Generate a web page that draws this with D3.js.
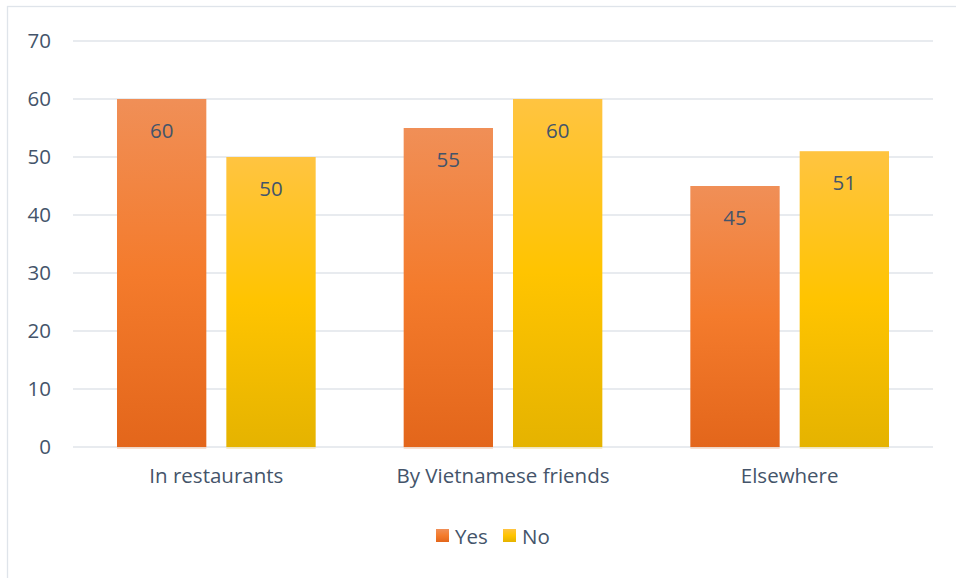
<!DOCTYPE html>
<html>
<head>
<meta charset="utf-8">
<script src="https://cdn.jsdelivr.net/npm/d3@7"></script>
<style>
  html, body { margin: 0; padding: 0; background: #fff; }
  svg { display: block; }
  text { font-family: "Open Sans", "Noto Sans", sans-serif; fill: #44546A; }
</style>
</head>
<body>
<svg id="chart" width="956" height="578"></svg>
<script>
// Chart data
const categories = ["In restaurants", "By Vietnamese friends", "Elsewhere"];
const seriesNames = ["Yes", "No"];
const yesValues = [60, 55, 45];
const noValues = [50, 60, 51];
const yTicks = [0, 10, 20, 30, 40, 50, 60, 70];

const rows = categories.map((c, i) => ({ category: c, Yes: yesValues[i], No: noValues[i] }));

const svg = d3.select("#chart");
const W = 956, H = 578;
const plot = { left: 73, right: 933, top: 41, bottom: 447 };
const fontSize = 20.5;

// Outer frame of the chart area
svg.append("rect")
  .attr("x", 7.5).attr("y", 6.5)
  .attr("width", W + 10).attr("height", H + 10)
  .attr("fill", "none").attr("stroke", "#dfe4ea").attr("stroke-width", 1.3);

// Gradients per series (light top, base middle, darker bottom)
const defs = svg.append("defs");
const gradStops = {
  Yes: ["#F08F57", "#F47B2C", "#E3661B"],
  No:  ["#FFC441", "#FFC400", "#E5B300"]
};
seriesNames.forEach(s => {
  const g = defs.append("linearGradient")
    .attr("id", "grad-" + s)
    .attr("x1", 0).attr("y1", 0).attr("x2", 0).attr("y2", 1);
  gradStops[s].forEach((c, i) => {
    g.append("stop").attr("offset", (i * 50) + "%").attr("stop-color", c);
  });
});

const x0 = d3.scaleBand()
  .domain(categories)
  .range([plot.left, plot.right])
  .paddingInner(0)
  .paddingOuter(0);

// Bars take ~199px of each ~287px category slot, with a 20px gap between them
const groupInset = 44;
const x1 = d3.scaleBand()
  .domain(seriesNames)
  .range([groupInset, x0.bandwidth() - groupInset])
  .paddingInner(0.183);

const y = d3.scaleLinear().domain([0, 70]).range([plot.bottom, plot.top]);

// Gridlines
svg.append("g")
  .selectAll("line")
  .data(yTicks)
  .join("line")
  .attr("x1", plot.left).attr("x2", plot.right)
  .attr("y1", d => y(d)).attr("y2", d => y(d))
  .attr("stroke", "#E1E5EA").attr("stroke-width", 1.4);

// Y axis labels
const yAxis = d3.axisLeft(y).tickValues(yTicks).tickSize(0).tickPadding(0);
const yG = svg.append("g").attr("transform", "translate(51,0)").call(yAxis);
yG.select(".domain").remove();
yG.selectAll("text")
  .attr("font-size", fontSize)
  .attr("fill", "#44546A")
  .style("font-family", "'Open Sans', sans-serif");

// X axis labels
const xAxis = d3.axisBottom(x0).tickSize(0).tickPadding(0);
const xG = svg.append("g").attr("transform", `translate(0,${plot.bottom + 21})`).call(xAxis);
xG.select(".domain").remove();
xG.selectAll("text")
  .attr("font-size", fontSize)
  .attr("fill", "#44546A")
  .attr("dy", "0.71em")
  .style("font-family", "'Open Sans', sans-serif");

// Bars
const groups = svg.append("g")
  .selectAll("g")
  .data(rows)
  .join("g")
  .attr("transform", d => `translate(${x0(d.category)},0)`);

groups.selectAll("rect")
  .data(d => seriesNames.map(s => ({ key: s, value: d[s] })))
  .join("rect")
  .attr("x", d => x1(d.key))
  .attr("width", x1.bandwidth())
  .attr("y", d => y(d.value))
  .attr("height", d => y(0) - y(d.value))
  .attr("fill", d => `url(#grad-${d.key})`);

// Light edge under each bar
groups.selectAll("line.edge")
  .data(d => seriesNames.map(s => ({ key: s, value: d[s] })))
  .join("line")
  .attr("class", "edge")
  .attr("x1", d => x1(d.key)).attr("x2", d => x1(d.key) + x1.bandwidth())
  .attr("y1", y(0) + 1).attr("y2", y(0) + 1)
  .attr("stroke", d => d.key === "Yes" ? "#F2C3A4" : "#F2DC95")
  .attr("stroke-width", 1);

// Value labels inside the bar tops
groups.selectAll("text.val")
  .data(d => seriesNames.map(s => ({ key: s, value: d[s] })))
  .join("text")
  .attr("class", "val")
  .attr("x", d => x1(d.key) + x1.bandwidth() / 2)
  .attr("y", d => y(d.value) + 38.5)
  .attr("text-anchor", "middle")
  .attr("font-size", fontSize)
  .text(d => d.value);

// Legend
const legendItems = [
  { key: "Yes", x: 436 },
  { key: "No", x: 503 }
];
const lg = svg.append("g");
legendItems.forEach(it => {
  lg.append("rect")
    .attr("x", it.x).attr("y", 529)
    .attr("width", 13).attr("height", 13)
    .attr("fill", `url(#grad-${it.key})`);
  lg.append("text")
    .attr("x", it.x + 19).attr("y", 544)
    .attr("font-size", fontSize)
    .text(it.key);
});
</script>
</body>
</html>
